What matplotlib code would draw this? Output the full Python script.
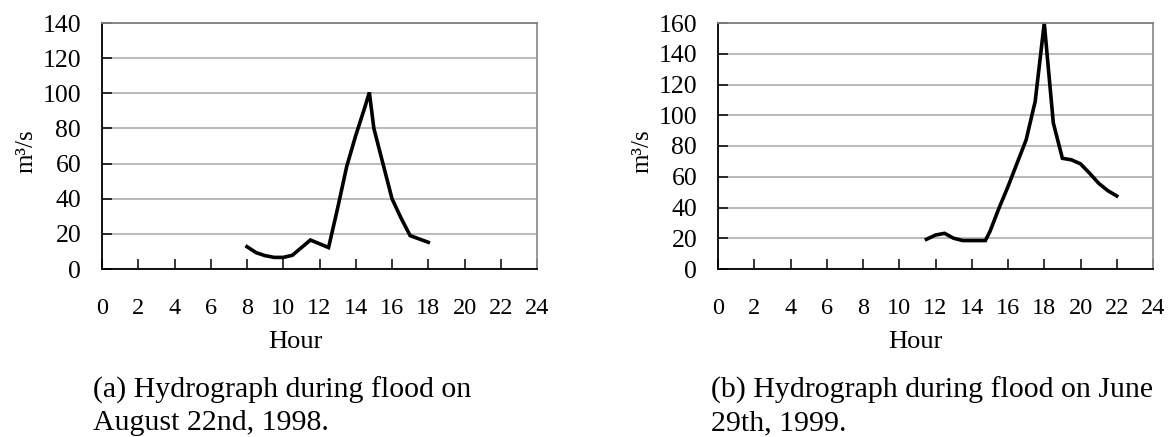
import matplotlib
matplotlib.use("Agg")
import matplotlib.pyplot as plt

plt.rcParams["font.family"] = ["Liberation Serif", "DejaVu Serif"]

# (a) August 22nd, 1998
hours_a = [8, 8.5, 9, 9.5, 10, 10.5, 11.5, 12.5, 13, 13.5, 14, 14.5, 14.75,
           15, 15.5, 16, 16.5, 17, 18]
flow_a = [12.7, 9.3, 7.6, 6.6, 6.6, 7.8, 16.5, 12.2, 34.6, 58.3, 76, 92, 100.5,
          80, 60, 40, 29, 19, 15.2]

# (b) June 29th, 1999
hours_b = [11.5, 12, 12.5, 13, 13.5, 14, 14.75, 15, 15.5, 16, 16.5, 17, 17.5,
           18, 18.5, 19, 19.5, 20, 20.5, 21, 21.5, 22]
flow_b = [19.3, 22.1, 23.2, 20, 18.5, 18.5, 18.5, 24.3, 39.5, 53.6, 68.8, 84, 109,
          160, 95, 72, 71, 68.4, 62.3, 55.8, 51, 47.5]

hour_ticks = list(range(0, 25, 2))
ymax_a, ymax_b = 140, 160

captions_a = ["(a) Hydrograph during flood on", "August 22nd, 1998."]
captions_b = ["(b) Hydrograph during flood on June", "29th, 1999."]

W, H = 1172, 437
fig = plt.figure(figsize=(W / 100, H / 100), dpi=100)


def make_axes(left_px, hours, flow, ymax, label_x):
    ax = fig.add_axes([left_px / W, (H - 269) / H, 435 / W, 246 / H])
    ax.plot(hours, flow, color="black", lw=2.6, solid_joinstyle="miter")
    ax.set_xlim(0, 24)
    ax.set_ylim(0, ymax)
    ax.set_xticks(hour_ticks)
    ax.set_yticks(range(0, ymax + 1, 20))
    ax.yaxis.grid(True, color="#b4b4b4", lw=1.3)
    ax.set_axisbelow(True)
    for s in ["left", "bottom"]:
        ax.spines[s].set_color("black")
        ax.spines[s].set_linewidth(1.3)
    ax.spines["top"].set_color("#808080")
    ax.spines["right"].set_color("#909090")
    ax.spines["top"].set_linewidth(1.3)
    ax.spines["right"].set_linewidth(1.3)
    ax.tick_params(axis="x", direction="in", length=7, width=1.1,
                   pad=21, labelsize=17.5)
    ax.tick_params(axis="y", direction="in", length=7.5, width=1.1,
                   pad=15, labelsize=18.5)
    ax.set_ylabel("m³/s", fontsize=18)
    ax.yaxis.set_label_coords(-0.149, 0.48)
    ax.set_xlabel("Hour", fontsize=19)
    ax.xaxis.set_label_coords(label_x, -0.25)
    return ax


make_axes(102, hours_a, flow_a, ymax_a, 0.444)
make_axes(718, hours_b, flow_b, ymax_b, 0.453)

for x_px, lines in [(93, captions_a), (711, captions_b)]:
    for line, base_px in zip(lines, [398, 430]):
        fig.text(x_px / W, 1 - base_px / H, line, fontsize=21.5,
                 va="baseline", ha="left")

fig.savefig("out.png", dpi=100)
